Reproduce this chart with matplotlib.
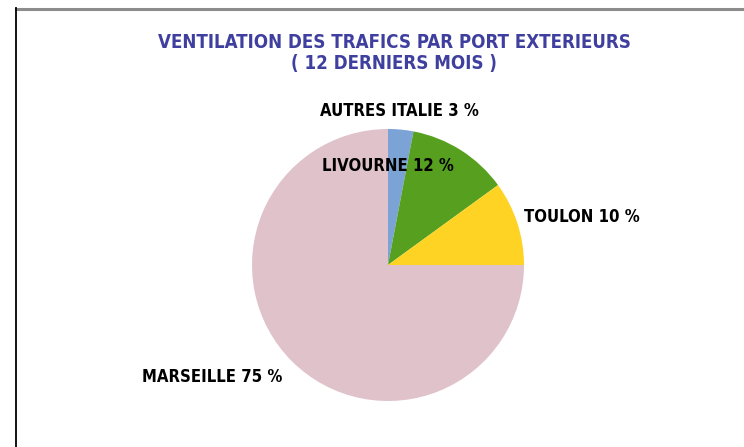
import matplotlib.pyplot as plt
from matplotlib.lines import Line2D

# données
ports = ['AUTRES ITALIE', 'LIVOURNE', 'TOULON', 'MARSEILLE']
parts = [3, 12, 10, 75]
couleurs = ['#7ba3d6', '#57a01f', '#ffd324', '#e0c2cb']

W, H = 744, 447
fig = plt.figure(figsize=(W / 100, H / 100), dpi=100)
fig.patch.set_facecolor('white')

# cadre (haut gris, gauche noir)
fig.add_artist(Line2D([16 / W, 1], [1 - 9 / H, 1 - 9 / H], color='#8c8c8c', lw=2.2))
fig.add_artist(Line2D([16 / W, 16 / W], [0, 1 - 8 / H], color='black', lw=1.3))

# camembert : centre (388, 265), rayon 136 px
cx, cy, r = 388, 265, 136
ax = fig.add_axes([(cx - r) / W, 1 - (cy + r) / H, 2 * r / W, 2 * r / H])
ax.pie(parts, colors=couleurs, startangle=90, counterclock=False, radius=1,
       wedgeprops=dict(linewidth=0))
ax.set_xlim(-1, 1)
ax.set_ylim(-1, 1)
ax.set_aspect('equal')
ax.axis('off')

police = 'DejaVu Sans'

fig.text(394 / W, 1 - 43 / H, 'VENTILATION DES TRAFICS PAR PORT EXTERIEURS',
         ha='center', va='center', color='#3f3f9f', fontsize=13.4,
         fontweight='bold', family=police, fontstretch='condensed')
fig.text(394 / W, 1 - 63 / H, '( 12 DERNIERS MOIS )',
         ha='center', va='center', color='#3f3f9f', fontsize=13.4,
         fontweight='bold', family=police, fontstretch='condensed')

# étiquettes
positions = [(320, 111), (322, 166), (524, 217), (142, 377)]
for nom, p, (x, y) in zip(ports, parts, positions):
    fig.text(x / W, 1 - y / H, f'{nom} {p} %', ha='left', va='center',
             color='black', fontsize=12, fontweight='bold', family=police,
             fontstretch='condensed')

fig.savefig('out.png', dpi=100, facecolor='white')
